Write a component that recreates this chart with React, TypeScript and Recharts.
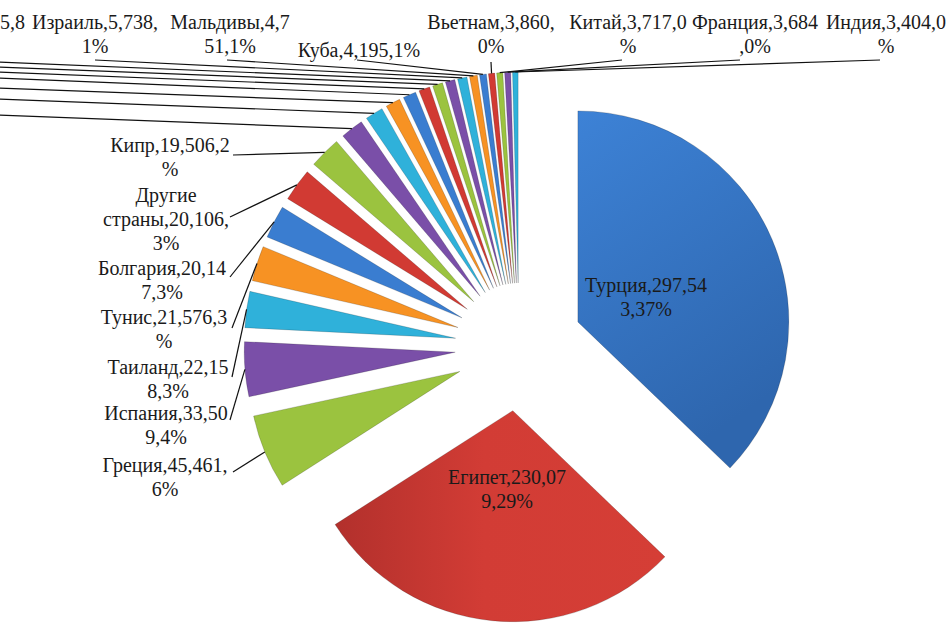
import React from 'react';
import { PieChart, Pie, Cell, Sector, Tooltip } from 'recharts';

// Туристы по странам, тыс. поездок
const countries = [
  'Турция', 'Египет', 'Греция', 'Испания', 'Таиланд', 'Тунис', 'Болгария',
  'Другие страны', 'Кипр', 'ОАЭ', 'Италия', 'Чехия', 'Доминикана', 'Черногория',
  'Хорватия', 'Иордания', 'Израиль', 'Мальдивы', 'Куба', 'Вьетнам', 'Китай',
  'Франция', 'Индия',
];
const tourists = [
  297.543, 230.079, 45.461, 33.509, 22.158, 21.576, 20.147, 20.106, 19.506,
  14.0, 11.0, 9.0, 8.0, 6.8, 6.2, 5.842, 5.738, 4.751, 4.195, 3.86, 3.717,
  3.684, 3.404,
];
const palette = ['#3A7DD0', '#D13A33', '#9BC33F', '#7A4FA8', '#2FB1DA', '#F79223'];

const data = countries.map((name, i) => ({ name, value: tourists[i] }));

// where Excel put each data label (x = centre of block, y = first line),
// breaks = char positions where the label wraps, lx/ly = leader line end,
// hidden = label sits outside the picture (only its leader line shows)
type LabelLayout = { x: number; y: number; breaks: number[]; lx?: number; ly?: number; hidden?: boolean };
const labelLayout: LabelLayout[] = [
  { x: 646, y: 285, breaks: [13] },
  { x: 507, y: 477, breaks: [13] },
  { x: 165, y: 465, breaks: [14], lx: 233, ly: 472 },
  { x: 166, y: 413, breaks: [13], lx: 230, ly: 420 },
  { x: 168, y: 367, breaks: [13], lx: 232, ly: 377 },
  { x: 164, y: 317, breaks: [14], lx: 232, ly: 328 },
  { x: 162, y: 268, breaks: [14], lx: 230, ly: 277 },
  { x: 166, y: 195, breaks: [7, 21], lx: 230, ly: 217 },
  { x: 170, y: 145, breaks: [13], lx: 233, ly: 155 },
  { x: -200, y: 110, breaks: [], lx: -5, ly: 115, hidden: true },
  { x: -200, y: 95, breaks: [], lx: -5, ly: 99, hidden: true },
  { x: -200, y: 85, breaks: [], lx: -5, ly: 88, hidden: true },
  { x: -200, y: 75, breaks: [], lx: -5, ly: 78, hidden: true },
  { x: -200, y: 70, breaks: [], lx: -5, ly: 72, hidden: true },
  { x: -200, y: 65, breaks: [], lx: -5, ly: 67, hidden: true },
  { x: -32, y: 22, breaks: [12], lx: -5, ly: 62 },
  { x: 95, y: 22, breaks: [14], lx: 95, ly: 60 },
  { x: 230, y: 22, breaks: [12], lx: 227, ly: 60 },
  { x: 359, y: 50, breaks: [], lx: 357, ly: 60 },
  { x: 491, y: 22, breaks: [14], lx: 491, ly: 62 },
  { x: 628, y: 22, breaks: [13], lx: 622, ly: 60 },
  { x: 755, y: 22, breaks: [13], lx: 740, ly: 60 },
  { x: 886, y: 22, breaks: [13], lx: 880, ly: 60 },
];

const EXPLODE = 64;
const RAD = Math.PI / 180;
const LINE_H = 24;
const FONT = '"Liberation Serif", "Times New Roman", Tinos, "DejaVu Serif", serif';

function explodeOffset(midAngle: number) {
  return { dx: Math.cos(-midAngle * RAD) * EXPLODE, dy: Math.sin(-midAngle * RAD) * EXPLODE };
}

function renderSlice(props: any) {
  const { dx, dy } = explodeOffset(props.midAngle);
  return <Sector {...props} cx={props.cx + dx} cy={props.cy + dy} />;
}

function splitLabel(text: string, breaks: number[]) {
  const out: string[] = [];
  let prev = 0;
  breaks.forEach((b) => {
    out.push(text.slice(prev, b).trim());
    prev = b;
  });
  out.push(text.slice(prev).trim());
  return out;
}

function renderLabel(props: any) {
  const { index, name, value, percent, cx, cy, midAngle, outerRadius } = props;
  const lay = labelLayout[index];
  if (!lay) return null;
  const text = `${name},${value.toFixed(3).replace('.', ',')},${Math.round(percent * 100)}%`;
  const lines = lay.hidden ? [] : splitLabel(text, lay.breaks);
  const { dx, dy } = explodeOffset(midAngle);
  const px = cx + dx + Math.cos(-midAngle * RAD) * outerRadius;
  const py = cy + dy + Math.sin(-midAngle * RAD) * outerRadius;
  return (
    <g key={`lbl-${index}`}>
      {lay.lx != null && (
        <line x1={lay.lx} y1={lay.ly} x2={px} y2={py} stroke="#111" strokeWidth={1.2} />
      )}
      {lines.map((ln, i) => (
        <text
          key={i}
          x={lay.x}
          y={lay.y + i * LINE_H}
          textAnchor="middle"
          dominantBaseline="central"
          fontFamily={FONT}
          fontSize={20}
          fill="#1a1a1a"
        >
          {ln}
        </text>
      ))}
    </g>
  );
}

export default function App() {
  return (
    <div style={{ position: 'absolute', left: 0, top: 0, width: 951, height: 623, background: '#fff', fontFamily: FONT }}>
      <PieChart width={951} height={623} margin={{ top: 0, right: 0, bottom: 0, left: 0 }}>
        <defs>
          <linearGradient id="gradTurkey" x1="0" y1="0" x2="0.4" y2="1">
            <stop offset="0%" stopColor="#3D82D6" />
            <stop offset="100%" stopColor="#2E66AE" />
          </linearGradient>
          <linearGradient id="gradEgypt" x1="0" y1="0" x2="1" y2="0">
            <stop offset="0%" stopColor="#B2302C" />
            <stop offset="45%" stopColor="#D23C35" />
            <stop offset="100%" stopColor="#D53E36" />
          </linearGradient>
        </defs>
        <Tooltip defaultIndex={0} content={() => null} cursor={false} />
        <Pie
          data={data}
          dataKey="value"
          nameKey="name"
          cx={519}
          cy={347}
          outerRadius={211}
          startAngle={90}
          endAngle={-270}
          stroke="rgba(0,0,0,0.22)"
          strokeWidth={0.8}
          isAnimationActive={false}
          label={renderLabel}
          labelLine={false}
          shape={renderSlice}
          activeShape={renderSlice}
          inactiveShape={renderSlice}
        >
          {data.map((d, i) => (
            <Cell
              key={d.name}
              fill={i === 0 ? 'url(#gradTurkey)' : i === 1 ? 'url(#gradEgypt)' : palette[i % palette.length]}
            />
          ))}
        </Pie>
      </PieChart>
    </div>
  );
}
